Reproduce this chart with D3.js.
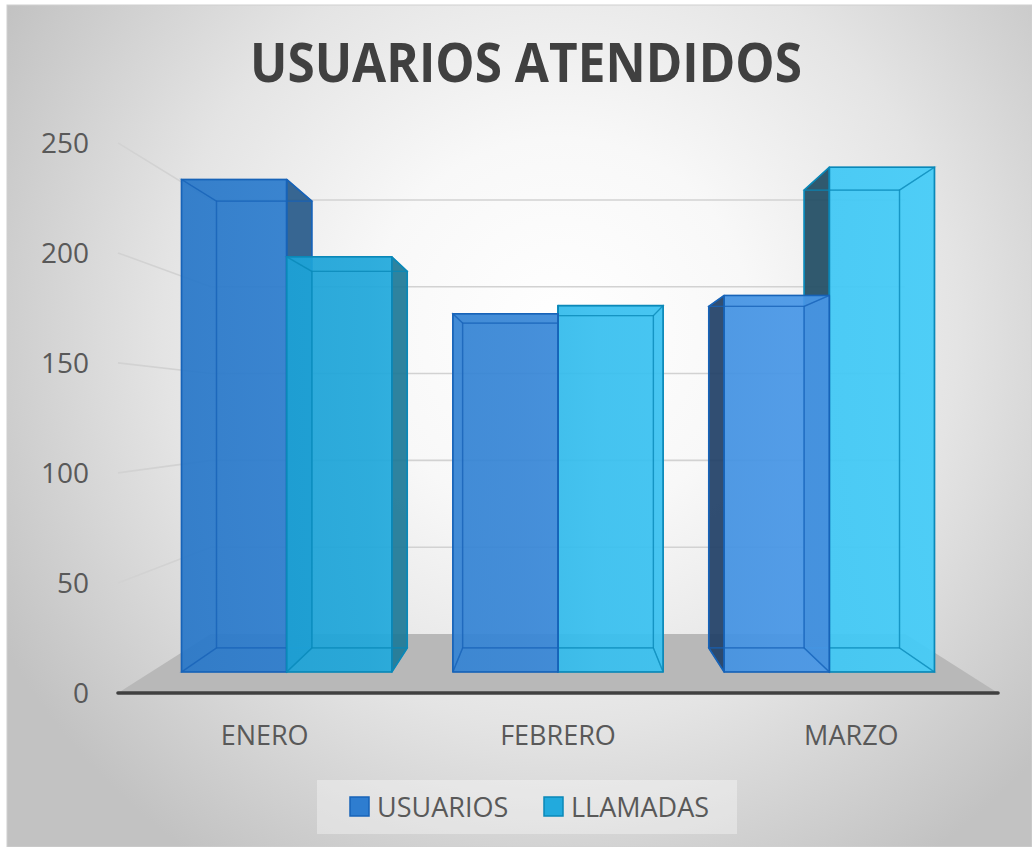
<!DOCTYPE html>
<html>
<head>
<meta charset="utf-8">
<script src="https://cdn.jsdelivr.net/npm/d3@7"></script>
<style>
  html, body { margin: 0; padding: 0; background: #ffffff; }
  svg { display: block; }
  .tick-label, .cat-label, .legend-label { font-family: 'Open Sans', sans-serif; fill: #595959; }
</style>
</head>
<body>
<div id="chart"></div>
<script>
// data
const categories = ['ENERO', 'FEBRERO', 'MARZO'];
const seriesNames = ['USUARIOS', 'LLAMADAS'];
const usuarios = [242, 176, 185];
const llamadas = [204, 180, 248];
const yTicks = [0, 50, 100, 150, 200, 250];
const chartTitle = 'USUARIOS ATENDIDOS';

const width = 1032;
const height = 847;

// simple perspective camera (world x/value/depth -> screen)
const cam = {cx: 558, cy: 413.5, eyeV: 127, f: 1000};
const depth = {floorFront: 454.5, barFront: 491.4, barBack: 541.7, wall: 576};

const project = p => [cam.cx + cam.f * p[0] / p[2], cam.cy - cam.f * (p[1] - cam.eyeV) / p[2]];

const xScale = d3.scaleBand()
                 .domain(categories)
                 .range([-200, 200])
                 .paddingInner(0.225)
                 .paddingOuter(0.1125);
const xSeries = d3.scaleBand()
                  .domain(seriesNames)
                  .range([0, xScale.bandwidth()]);
const yScale = d3.scaleLinear()
                 .domain([0, 250])
                 .range([0, 250]);

const [wx0, wx1] = xScale.range();

const svg = d3.select('#chart')
              .append('svg')
              .attr('width', width)
              .attr('height', height);

const defs = svg.append('defs');
const bg = defs.append('radialGradient')
               .attr('id', 'bg')
               .attr('gradientUnits', 'userSpaceOnUse')
               .attr('cx', 560).attr('cy', 330).attr('r', 640);
[[0, '#ffffff'], [0.3, '#f8f8f8'], [0.62, '#e4e4e4'], [1, '#c2c2c2']].forEach(s =>
  bg.append('stop').attr('offset', s[0]).attr('stop-color', s[1]));

const palette = {
  USUARIOS: {
    stops: [[0, '#2877c8'], [0.1, '#2b7bcc'], [0.45, '#3786d6'], [0.8, '#4796e6'], [1, '#4a99e9']],
    left: '#1f3f66', right: '#275a8a', stroke: '#1763b8', swatch: '#2e7dd0'
  },
  LLAMADAS: {
    stops: [[0, '#199cd3'], [0.25, '#1fa7da'], [0.55, '#37bfef'], [1, '#43ccf8']],
    left: '#1f4c63', right: '#1c7897', stroke: '#0a88b8', swatch: '#22aadd'
  }
};

seriesNames.forEach(name => {
  const g = defs.append('linearGradient')
                .attr('id', 'front-' + name)
                .attr('gradientUnits', 'userSpaceOnUse')
                .attr('x1', 180).attr('x2', 940).attr('y1', 0).attr('y2', 0);
  palette[name].stops.forEach(s => g.append('stop').attr('offset', s[0]).attr('stop-color', s[1]));
});

svg.append('rect')
   .attr('x', 7).attr('y', 5)
   .attr('width', width - 7).attr('height', height - 5)
   .attr('fill', 'url(#bg)')
   .attr('stroke', '#d0d0d0');

const line = d3.line();

// gridlines: side wall then back wall
svg.append('g')
   .attr('class', 'grid')
   .selectAll('path')
   .data(yTicks.filter(t => t > 0))
   .enter()
   .append('path')
   .attr('d', t => line([
     project([wx0, yScale(t), depth.floorFront]),
     project([wx0, yScale(t), depth.wall]),
     project([wx1, yScale(t), depth.wall])
   ]))
   .attr('fill', 'none')
   .attr('stroke', '#d2d2d2')
   .attr('stroke-width', 1.6);

// floor
svg.append('path')
   .attr('d', line([
     project([wx0, 0, depth.floorFront]),
     project([wx0, 0, depth.wall]),
     project([wx1, 0, depth.wall]),
     project([wx1, 0, depth.floorFront])
   ]) + 'Z')
   .attr('fill', '#b8b8b8');

svg.append('path')
   .attr('d', line([project([wx0, 0, depth.floorFront]), project([wx1, 0, depth.floorFront])]))
   .attr('stroke', '#404040')
   .attr('stroke-width', 3.5)
   .attr('stroke-linecap', 'round');

// bars
const bars = [];
categories.forEach((c, i) => {
  [usuarios[i], llamadas[i]].forEach((v, j) => {
    const name = seriesNames[j];
    const x0 = xScale(c) + xSeries(name);
    bars.push({name, x0, x1: x0 + xSeries.bandwidth(), v});
  });
});
// far from the eye first
bars.sort((a, b) => Math.abs(b.x0 + b.x1) - Math.abs(a.x0 + a.x1));

function faces(b) {
  const z0 = depth.barFront, z1 = depth.barBack, top = yScale(b.v);
  const P = (x, y, z) => project([x, y, z]);
  return [
    {key: 'front', facing: true,
      pts: [P(b.x0, 0, z0), P(b.x0, top, z0), P(b.x1, top, z0), P(b.x1, 0, z0)]},
    {key: 'back', facing: false,
      pts: [P(b.x0, 0, z1), P(b.x0, top, z1), P(b.x1, top, z1), P(b.x1, 0, z1)]},
    {key: 'left', facing: b.x0 > 0,
      pts: [P(b.x0, 0, z0), P(b.x0, top, z0), P(b.x0, top, z1), P(b.x0, 0, z1)]},
    {key: 'right', facing: b.x1 < 0,
      pts: [P(b.x1, 0, z0), P(b.x1, top, z0), P(b.x1, top, z1), P(b.x1, 0, z1)]},
    {key: 'top', facing: cam.eyeV > top,
      pts: [P(b.x0, top, z0), P(b.x1, top, z0), P(b.x1, top, z1), P(b.x0, top, z1)]},
    {key: 'bottom', facing: false,
      pts: [P(b.x0, 0, z0), P(b.x1, 0, z0), P(b.x1, 0, z1), P(b.x0, 0, z1)]}
  ];
}

const faceFill = (b, f) => {
  const p = palette[b.name];
  if (f.key === 'front') return 'url(#front-' + b.name + ')';
  if (f.key === 'left') return p.left;
  if (f.key === 'right') return p.right;
  return p.stroke;
};

const barLayer = svg.append('g').attr('class', 'bars');
bars.forEach(b => {
  const fs = faces(b);
  const g = barLayer.append('g').attr('class', 'bar');
  g.selectAll('path.fill')
   .data(fs.filter(f => f.facing))
   .enter()
   .append('path')
   .attr('class', 'fill')
   .attr('d', f => line(f.pts) + 'Z')
   .attr('fill', f => faceFill(b, f))
   .attr('fill-opacity', f => f.key === 'front' ? 0.93 : 0.92);
  g.selectAll('path.hidden')
   .data(fs.filter(f => !f.facing))
   .enter()
   .append('path')
   .attr('class', 'hidden')
   .attr('d', f => line(f.pts) + 'Z')
   .attr('fill', 'none')
   .attr('stroke', palette[b.name].stroke)
   .attr('stroke-opacity', 0.55)
   .attr('stroke-width', 1.3);
  g.selectAll('path.edge')
   .data(fs.filter(f => f.facing))
   .enter()
   .append('path')
   .attr('class', 'edge')
   .attr('d', f => line(f.pts) + 'Z')
   .attr('fill', 'none')
   .attr('stroke', palette[b.name].stroke)
   .attr('stroke-width', 1.6)
   .attr('stroke-linejoin', 'round');
});

// value axis labels
svg.append('g')
   .selectAll('text')
   .data(yTicks)
   .enter()
   .append('text')
   .attr('class', 'tick-label')
   .attr('x', t => project([wx0, yScale(t), depth.floorFront])[0] - 29)
   .attr('y', t => project([wx0, yScale(t), depth.floorFront])[1])
   .attr('dy', '0.35em')
   .attr('text-anchor', 'end')
   .style('font-size', '28px')
   .text(t => t);

// category labels
svg.append('g')
   .selectAll('text')
   .data(categories)
   .enter()
   .append('text')
   .attr('class', 'cat-label')
   .attr('x', c => project([xScale(c) + xScale.bandwidth() / 2, 0, depth.floorFront])[0])
   .attr('y', 745)
   .attr('text-anchor', 'middle')
   .style('font-size', '27px')
   .text(c => c);

// title
svg.append('text')
   .attr('x', 526)
   .attr('y', 82)
   .attr('text-anchor', 'middle')
   .attr('textLength', 552)
   .attr('lengthAdjust', 'spacingAndGlyphs')
   .style('font-family', "'Open Sans', sans-serif")
   .style('font-weight', 700)
   .style('font-size', '53px')
   .style('fill', '#404040')
   .text(chartTitle);

// legend
const legend = svg.append('g').attr('class', 'legend');
legend.append('rect')
      .attr('x', 317).attr('y', 780)
      .attr('width', 420).attr('height', 54)
      .attr('fill', '#ffffff')
      .attr('fill-opacity', 0.35);
const legendX = [350, 544];
const item = legend.selectAll('g.item')
                   .data(seriesNames)
                   .enter()
                   .append('g')
                   .attr('class', 'item')
                   .attr('transform', (d, i) => `translate(${legendX[i]}, 797)`);
item.append('rect')
    .attr('width', 19).attr('height', 19)
    .attr('fill', d => palette[d].swatch)
    .attr('stroke', d => palette[d].stroke)
    .attr('stroke-width', 1.5);
item.append('text')
    .attr('class', 'legend-label')
    .attr('x', 27)
    .attr('y', 20)
    .style('font-size', '27px')
    .text(d => d);
</script>
</body>
</html>
